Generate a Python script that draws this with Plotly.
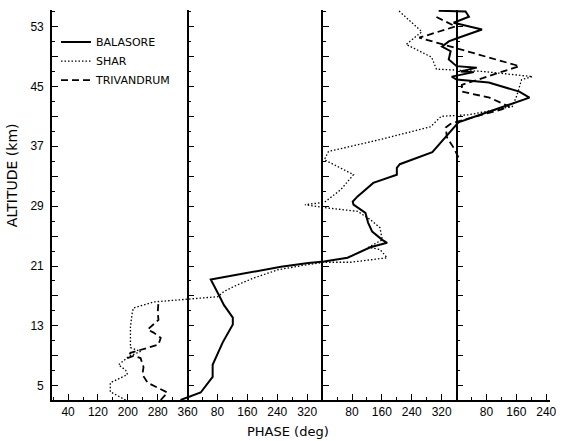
import plotly.graph_objects as go

# ---------------- data (cumulative phase in degrees, altitude in km) ----------------
alt_balasore = [3.1, 4.1, 6.2, 7.8, 10.8, 13.2, 14.1, 15.8, 16.9, 19.2, 19.4, 20.1, 20.9, 21.4,
                21.6, 22.1, 23.5, 24.1, 24.5, 25.6, 26.8, 28.1, 29.2, 29.6, 30.3, 32.1, 33.2,
                34.1, 34.6, 36.2, 40.2, 41.6, 43.5, 44.3, 45.5, 45.9, 46.3, 46.9, 47.0, 47.5,
                47.7, 48.6, 49.7, 50.3, 51.0, 51.5, 52.6, 53.5, 54.3, 55.0, 55.1]
phase_balasore = [341, 395, 427, 427, 454, 481, 481, 457, 446, 422, 444, 521, 610, 683,
                  725, 788, 849, 894, 881, 854, 843, 836, 804, 802, 815, 857, 920,
                  920, 928, 1015, 1085, 1166, 1275, 1248, 1166, 1080, 1067, 1126, 1091, 1134,
                  1080, 1059, 1064, 1041, 1059, 1085, 1148, 1072, 1113, 1104, 1032]

alt_shar = [3.1, 4.2, 5.4, 6.5, 7.1, 7.8, 8.9, 9.6, 10.1, 12.9, 14.8, 15.4, 16.2, 16.6,
            16.9, 17.6, 18.5, 19.4, 20.5, 21.2, 21.5, 21.5, 22.1, 23.2, 23.5, 24.5, 26.1,
            27.2, 28.3, 28.8, 29.2, 29.5, 31.2, 33.2, 35.2, 36.3, 37.9, 39.6, 41.0, 41.2,
            42.3, 43.6, 45.9, 46.3, 47.0, 47.3, 48.9, 50.6, 51.7, 52.3, 55.1]
phase_shar = [194, 153, 153, 199, 194, 175, 202, 234, 207, 207, 212, 215, 269, 360,
              441, 457, 494, 537, 602, 683, 725, 796, 894, 875, 844, 881, 875,
              849, 815, 726, 674, 726, 770, 804, 726, 737, 876, 1010, 1039, 1112,
              1229, 1240, 1254, 1283, 1148, 1026, 1013, 945, 974, 987, 925]

alt_trivandrum = [3.1, 4.1, 5.4, 6.5, 7.5, 8.7, 9.0, 8.7, 9.4, 9.8, 10.5, 11.4, 12.1, 12.5,
                  13.2, 13.8, 14.8, 15.8, 16.2, None,
                  35.5, 36.8, 38.2, 39.5, 40.0, 40.6, 41.9, 42.3, 43.5, 44.3, 45.2, 47.7,
                  51.5, 53.0, 54.3]
phase_trivandrum = [288, 306, 253, 239, 242, 234, 215, 199, 207, 234, 282, 288, 269, 253,
                    269, 282, 280, 280, 282, None,
                    1085, 1072, 1054, 1051, 1064, 1104, 1199, 1221, 1168, 1094, 1094, 1248,
                    980, 1077, 1025]

phase_tick_vals = [40, 120, 200, 280, 360, 440, 520, 600, 680, 800, 880, 960, 1040, 1160, 1240, 1320]
phase_tick_text = ["40", "120", "200", "280", "360", "80", "160", "240", "320",
                   "80", "160", "240", "320", "80", "160", "240"]
panel_edges = [360, 720, 1080]
alt_tick_vals = [5, 9, 13, 17, 21, 25, 29, 33, 37, 41, 45, 49, 53]
alt_tick_text = ["5", "", "13", "", "21", "", "29", "", "37", "", "45", "", "53"]

X_RANGE = [-3, 1330]
Y_RANGE = [3.1, 55.2]

FONT = "Liberation Sans"

fig = go.Figure()
fig.add_trace(go.Scatter(x=phase_balasore, y=alt_balasore, mode="lines", name="BALASORE",
                         line=dict(color="black", width=2)))
fig.add_trace(go.Scatter(x=phase_shar, y=alt_shar, mode="lines", name="SHAR",
                         line=dict(color="black", width=1.3, dash="1.5px,2px")))
fig.add_trace(go.Scatter(x=phase_trivandrum, y=alt_trivandrum, mode="lines", name="TRIVANDRUM",
                         connectgaps=False,
                         line=dict(color="black", width=1.8, dash="7px,4px")))

common_y = dict(range=Y_RANGE, showline=True, linecolor="black", linewidth=1.6,
                ticks="inside", ticklen=6, tickwidth=1.4, tickcolor="black",
                tickvals=alt_tick_vals, showgrid=False, zeroline=False,
                minor=dict(ticks="inside", ticklen=3, tickwidth=1.2, tickcolor="black",
                           dtick=2, tick0=5, showgrid=False))

layout_axes = {}
for i, edge in enumerate(panel_edges):
    name = f"y{i + 2}"
    fig.add_trace(go.Scatter(x=[None], y=[None], yaxis=name, showlegend=False,
                             hoverinfo="skip", mode="lines"))
    ax = dict(common_y)
    ax.update(overlaying="y", anchor="free", side="left",
              position=(edge - X_RANGE[0]) / (X_RANGE[1] - X_RANGE[0]),
              showticklabels=False)
    layout_axes[f"yaxis{i + 2}"] = ax

yaxis_main = dict(common_y)
yaxis_main.update(ticktext=alt_tick_text, ticklabelstandoff=4,
                  tickfont=dict(family=FONT, size=12, color="black"))

fig.update_layout(
    width=569, height=441,
    margin=dict(l=52, r=19, t=10, b=41),
    plot_bgcolor="white", paper_bgcolor="white",
    showlegend=True,
    legend=dict(x=0.008, y=0.955, xanchor="left", yanchor="top",
                font=dict(family="DejaVu Sans", size=11, color="black"),
                bgcolor="rgba(0,0,0,0)", borderwidth=0, itemwidth=30,
                tracegroupgap=0),
    xaxis=dict(range=X_RANGE, showline=True, linecolor="black", linewidth=1.6,
               ticks="inside", ticklen=6, tickwidth=1.4, tickcolor="black",
               tickvals=phase_tick_vals, ticktext=phase_tick_text,
               tickfont=dict(family=FONT, size=12, color="black"),
               showgrid=False, zeroline=False,
               minor=dict(ticks="inside", ticklen=3, tickwidth=1.2, tickcolor="black",
                          dtick=40, tick0=0, showgrid=False)),
    yaxis=yaxis_main,
    **layout_axes,
    annotations=[
        dict(text="PHASE (deg)", xref="paper", yref="paper", x=0.474, y=-0.082,
             xanchor="center", yanchor="middle", showarrow=False,
             font=dict(family="DejaVu Sans", size=13, color="black")),
        dict(text="ALTITUDE (km)", xref="paper", yref="paper", x=-0.08, y=0.577,
             xanchor="center", yanchor="middle", textangle=-90, showarrow=False,
             font=dict(family="DejaVu Sans", size=14, color="black")),
    ],
)

fig.write_html("out.html")
